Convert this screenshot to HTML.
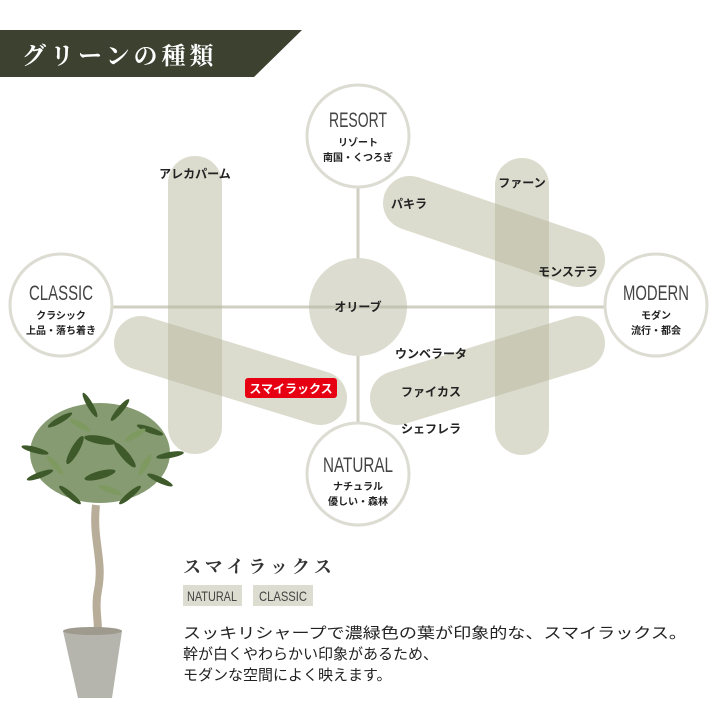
<!DOCTYPE html>
<html><head><meta charset="utf-8"><style>
body{margin:0;background:#fff}
svg{display:block}
.jp{font-family:"Liberation Sans","Noto Sans CJK JP",sans-serif}
.en{font-family:"Liberation Sans",sans-serif;fill:#444}
</style></head><body>
<svg width="720" height="720" viewBox="0 0 720 720" xmlns="http://www.w3.org/2000/svg">
<polygon points="0,30 302,30 254,77 0,77" fill="#3c4130"/>
<text x="22" y="64" font-family="'Noto Serif CJK SC','Noto Serif CJK JP',serif" font-size="24" font-weight="bold" fill="#fff" letter-spacing="4">グリーンの種類</text>

<line x1="60" y1="307" x2="656" y2="307" stroke="#cfcfc2" stroke-width="3"/>
<line x1="358" y1="140" x2="358" y2="475" stroke="#cfcfc2" stroke-width="3"/>

<g stroke="rgb(184,184,158)" stroke-opacity="0.5" stroke-linecap="round" stroke-width="54" fill="none">
<line x1="195" y1="183" x2="195" y2="427"/>
<line x1="522" y1="185" x2="522" y2="428"/>
<line x1="410" y1="203" x2="578" y2="260"/>
<line x1="141" y1="343" x2="320" y2="398"/>
<line x1="397" y1="398" x2="578" y2="343"/>
</g>
<circle cx="358" cy="307" r="49" fill="#dcdcd0"/>
<line x1="309" y1="307" x2="407" y2="307" stroke="#c4c4b4" stroke-width="3"/>

<g fill="#fff" stroke="#dcdcd3" stroke-width="3">
<circle cx="358" cy="136" r="51"/>
<circle cx="61" cy="305" r="51"/>
<circle cx="656" cy="305" r="51"/>
<circle cx="358" cy="474" r="51"/>
</g>
<g class="en" font-size="21" text-anchor="middle">
<text x="358" y="127" textLength="58" lengthAdjust="spacingAndGlyphs">RESORT</text>
<text x="61" y="300" textLength="64" lengthAdjust="spacingAndGlyphs">CLASSIC</text>
<text x="656" y="300" textLength="66" lengthAdjust="spacingAndGlyphs">MODERN</text>
<text x="358" y="472" textLength="70" lengthAdjust="spacingAndGlyphs">NATURAL</text>
</g>
<g class="jp" font-size="10" font-weight="bold" fill="#222" text-anchor="middle">
<text x="358" y="146">リゾート</text><text x="358" y="161">南国・くつろぎ</text>
<text x="61" y="319">クラシック</text><text x="61" y="334">上品・落ち着き</text>
<text x="656" y="319">モダン</text><text x="656" y="334">流行・都会</text>
<text x="358" y="490">ナチュラル</text><text x="358" y="505">優しい・森林</text>
</g>
<g class="jp" font-size="12" font-weight="bold" fill="#222" text-anchor="middle">
<text x="195" y="178">アレカパーム</text>
<text x="522" y="187">ファーン</text>
<text x="409" y="208">パキラ</text>
<text x="568" y="276">モンステラ</text>
<text x="358" y="311">オリーブ</text>
<text x="431" y="358">ウンベラータ</text>
<text x="431" y="396">ファイカス</text>
<text x="431" y="433">シェフレラ</text>
</g>
<rect x="245" y="378" width="92" height="20" rx="3" fill="#e60012"/>
<text x="291" y="393" class="jp" font-size="12" font-weight="bold" fill="#fff" text-anchor="middle">スマイラックス</text>

<!-- plant -->
<path d="M96 505 C92 540 104 560 98 590 C94 610 100 625 97 635" stroke="#b8ad98" stroke-width="8" fill="none"/>
<ellipse cx="100" cy="453" rx="70" ry="50" fill="#5d7a43" opacity="0.75"/>
<g fill="#3e5a2a">
<ellipse cx="60" cy="420" rx="14" ry="3" transform="rotate(-30 60 420)"/>
<ellipse cx="90" cy="405" rx="14" ry="3" transform="rotate(60 90 405)"/>
<ellipse cx="120" cy="410" rx="14" ry="3" transform="rotate(-50 120 410)"/>
<ellipse cx="150" cy="430" rx="14" ry="3" transform="rotate(20 150 430)"/>
<ellipse cx="170" cy="455" rx="14" ry="3" transform="rotate(-10 170 455)"/>
<ellipse cx="35" cy="450" rx="14" ry="3" transform="rotate(15 35 450)"/>
<ellipse cx="40" cy="475" rx="14" ry="3" transform="rotate(-20 40 475)"/>
<ellipse cx="70" cy="495" rx="14" ry="3" transform="rotate(40 70 495)"/>
<ellipse cx="130" cy="495" rx="14" ry="3" transform="rotate(-40 130 495)"/>
<ellipse cx="160" cy="480" rx="14" ry="3" transform="rotate(25 160 480)"/>
<ellipse cx="100" cy="440" rx="16" ry="4" transform="rotate(10 100 440)"/>
<ellipse cx="75" cy="450" rx="16" ry="4" transform="rotate(-60 75 450)"/>
<ellipse cx="125" cy="455" rx="16" ry="4" transform="rotate(50 125 455)"/>
<ellipse cx="100" cy="475" rx="16" ry="4" transform="rotate(-15 100 475)"/>
</g>
<g fill="#7e9a60">
<ellipse cx="80" cy="425" rx="12" ry="3" transform="rotate(30 80 425)"/>
<ellipse cx="135" cy="435" rx="12" ry="3" transform="rotate(-30 135 435)"/>
<ellipse cx="55" cy="465" rx="12" ry="3" transform="rotate(50 55 465)"/>
<ellipse cx="145" cy="465" rx="12" ry="3" transform="rotate(-60 145 465)"/>
<ellipse cx="110" cy="490" rx="12" ry="3" transform="rotate(20 110 490)"/>
</g>
<polygon points="63,631 122,631 112,698 78,698" fill="#b5b5ae"/>
<ellipse cx="92.5" cy="631" rx="29.5" ry="4" fill="#9e9a8e"/>

<text x="183" y="573" font-family="'Noto Serif CJK SC','Noto Serif CJK JP',serif" font-size="18" font-weight="bold" fill="#333" letter-spacing="4">スマイラックス</text>
<rect x="183" y="585" width="59" height="21" fill="#dcdcd0"/>
<rect x="253" y="585" width="60" height="21" fill="#dcdcd0"/>
<text x="212" y="601" class="en" font-size="14" text-anchor="middle" textLength="50" lengthAdjust="spacingAndGlyphs">NATURAL</text>
<text x="283" y="601" class="en" font-size="14" text-anchor="middle" textLength="48" lengthAdjust="spacingAndGlyphs">CLASSIC</text>
<g class="jp" font-size="15" fill="#222">
<text x="183" y="638" textLength="504" lengthAdjust="spacingAndGlyphs">スッキリシャープで濃緑色の葉が印象的な、スマイラックス。</text>
<text x="183" y="659">幹が白くやわらかい印象があるため、</text>
<text x="183" y="680">モダンな空間によく映えます。</text>
</g>
</svg>
</body></html>
